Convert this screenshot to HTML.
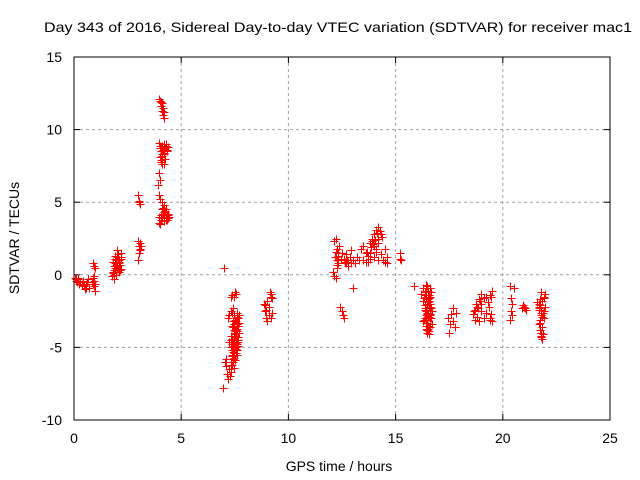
<!DOCTYPE html>
<html><head><meta charset="utf-8"><style>
body{margin:0;background:#fff}
svg{display:block;font-family:"Liberation Sans",sans-serif}
</style></head><body>
<svg id="chart" width="640" height="480" viewBox="0 0 640 480" xmlns="http://www.w3.org/2000/svg">
<rect width="640" height="480" fill="#fff"/>
<text x="44" y="32" font-size="14" textLength="588" lengthAdjust="spacingAndGlyphs">Day 343 of 2016, Sidereal Day-to-day VTEC variation (SDTVAR) for receiver mac1</text>
<g id="grid"></g>
<g id="ticks"></g>
<g id="pts"></g>
<rect x="74" y="57" width="536" height="363" fill="none" stroke="#000" stroke-width="1"/>
<text x="339" y="471" font-size="14" text-anchor="middle">GPS time / hours</text>
<text transform="translate(19,238) rotate(-90)" font-size="14" text-anchor="middle">SDTVAR / TECUs</text>
</svg>
<script>
const xTicks=[0,5,10,15,20,25];
const yTicks=[-10,-5,0,5,10,15];
const hours=[0.05,0.1,0.15,0.2,0.25,0.3,0.35,0.4,0.45,0.5,0.55,0.6,0.65,0.7,0.85,0.9,0.95,1.0,0.9,0.95,1.0,0.92,0.98,
0.08,0.18,0.28,0.38,0.48,0.58,0.88,0.93,
1.75,1.8,1.85,1.9,1.95,2.0,2.05,2.1,2.15,2.2,1.8,1.9,2.0,2.1,1.85,1.95,2.05,1.9,2.0,2.1,2.15,2.2,
1.82,1.88,1.92,1.98,2.02,2.08,2.12,2.18,1.87,1.97,2.07,2.17,
3.0,3.05,3.1,3.0,3.05,3.1,3.05,3.0,3.08,3.02,3.07,3.12,
3.95,4.0,4.05,4.1,4.15,4.2,4.05,4.1,4.15,4.2,3.95,4.0,4.05,4.1,4.2,4.3,4.35,4.4,4.2,4.25,4.05,4.1,3.95,4.0,3.9,3.95,4.0,4.1,4.2,4.3,4.4,4.45,4.15,4.25,4.35,3.95,3.95,4.0,4.05,4.1,4.2,4.3,4.4,
4.0,4.05,4.1,4.15,4.2,4.25,4.3,4.35,4.4,4.12,4.22,4.32,4.08,4.18,4.28,4.38,4.1,4.2,4.3,4.4,4.15,4.25,4.35,4.0,4.08,4.12,4.18,4.02,
6.95,7.05,7.1,7.15,7.2,7.25,7.3,7.35,7.4,7.45,7.5,7.55,7.6,7.65,7.7,7.3,7.35,7.4,7.45,7.5,7.55,7.6,7.65,7.35,7.4,7.45,7.5,7.55,7.6,7.35,7.4,7.45,7.5,7.3,7.35,7.3,7.25,7.2,7.1,7.0,7.6,7.55,7.5,7.45,7.4,7.35,7.3,7.25,7.3,
7.35,7.4,7.45,7.5,7.55,7.6,7.65,7.7,7.38,7.43,7.48,7.53,7.58,7.63,7.68,7.36,7.41,7.46,7.51,7.56,7.61,7.66,7.4,7.45,7.5,7.55,7.6,7.65,7.42,7.47,7.52,7.57,7.62,7.44,7.49,7.54,7.59,7.32,7.28,7.33,
8.85,8.9,8.95,9.0,9.1,9.2,9.15,9.2,9.25,8.9,9.0,9.1,9.18,9.22,8.95,
12.1,12.15,12.2,12.25,12.3,12.35,12.15,12.2,12.25,12.3,12.2,12.25,12.4,12.5,12.55,12.6,12.5,12.6,12.7,12.8,12.6,12.7,12.8,12.9,13.0,12.9,13.0,13.1,
12.18,12.22,12.28,12.33,12.45,12.65,12.75,12.85,
13.4,13.5,13.6,13.7,13.8,13.9,13.5,13.6,13.7,13.8,13.9,14.0,14.1,14.2,14.3,14.0,14.1,14.2,14.3,14.4,13.8,14.0,14.2,14.5,14.6,14.5,14.6,13.3,13.2,13.1,
13.95,14.05,14.15,14.25,14.35,14.1,14.2,13.85,13.65,
15.2,15.25,15.2,15.85,
16.2,16.3,16.35,16.4,16.45,16.5,16.55,16.6,16.65,16.7,16.3,16.35,16.4,16.45,16.5,16.55,16.6,16.35,16.4,16.45,16.5,16.55,16.6,16.4,16.5,16.6,16.3,16.4,16.5,16.6,16.45,16.5,16.55,16.45,
16.32,16.38,16.42,16.48,16.52,16.58,16.62,16.68,16.34,16.44,16.54,16.64,16.36,16.46,16.56,16.66,16.4,16.5,16.6,16.42,16.52,16.62,16.38,16.48,16.58,
17.45,17.5,17.55,17.6,17.7,17.75,17.8,17.7,
18.6,18.7,18.8,18.9,19.0,19.1,19.2,18.7,18.8,18.9,19.0,19.1,19.3,19.4,19.5,19.4,19.5,19.45,18.75,18.85,19.0,19.2,
19.35,19.45,19.42,18.65,18.95,
20.35,20.4,20.45,20.4,20.35,20.5,20.45,20.9,21.0,21.1,20.95,21.05,
21.6,21.7,21.8,21.9,21.95,21.7,21.75,21.8,21.85,21.9,21.95,21.7,21.8,21.9,21.75,21.85,21.8,21.75,21.7,21.8,
21.72,21.78,21.82,21.88,21.92,21.74,21.84,21.68,21.76,21.86];
const values=[-0.2,-0.4,-0.5,-0.3,-0.6,-0.5,-0.7,-0.4,-0.8,-1.0,-0.6,-0.5,-0.3,-0.9,-0.5,-0.2,-0.8,-1.1,0.8,0.6,0.5,-0.4,-0.6,
-0.3,-0.2,-0.5,-0.6,-0.7,-0.9,-0.6,-0.1,
-0.1,0.1,0.3,0.5,0.9,1.2,1.4,1.0,0.7,1.5,0.9,1.1,0.6,0.2,-0.3,0.0,0.4,1.3,1.7,0.8,0.3,1.1,
0.2,0.6,0.8,1.0,0.5,0.3,0.9,1.2,0.0,0.7,1.1,0.4,
5.5,5.0,4.9,2.3,2.0,1.8,1.5,1.0,2.2,5.1,1.7,2.0,
12.1,12.0,11.9,11.8,11.5,11.2,11.6,11.3,11.0,10.8,9.1,8.9,8.7,8.5,8.8,9.0,8.6,8.8,8.3,8.0,7.9,7.6,7.0,6.5,6.2,5.5,5.2,5.0,4.8,4.5,4.2,4.0,4.6,4.3,3.8,4.0,3.6,3.5,3.8,3.9,3.7,3.9,4.1,
8.7,8.5,8.9,8.6,9.0,8.7,8.9,8.6,8.8,8.3,8.4,8.5,4.1,4.3,3.9,4.0,4.5,4.0,3.8,3.9,4.2,4.4,4.1,8.1,7.8,8.2,7.6,8.9,
-7.8,-6.0,-6.3,-6.8,-7.2,-6.5,-6.0,-5.5,-5.0,-4.6,-4.2,-3.8,-3.4,-3.0,-2.8,-4.5,-4.8,-5.2,-5.4,-4.9,-4.3,-3.9,-4.5,-3.5,-3.2,-3.8,-4.0,-5.0,-5.5,-2.6,-2.3,-2.8,-3.1,-1.5,-1.4,-2.5,-2.8,-3.0,-5.8,0.5,-2.6,-1.3,-1.2,-1.5,-5.8,-6.2,-5.0,-4.6,-4.2,
-4.4,-4.6,-4.8,-5.0,-4.7,-4.5,-4.3,-4.0,-5.2,-4.9,-4.4,-4.1,-3.7,-3.5,-3.3,-5.6,-5.3,-4.2,-3.9,-5.1,-4.8,-4.6,-3.6,-3.4,-3.1,-5.4,-5.2,-4.9,-6.0,-5.7,-4.3,-4.0,-3.7,-6.4,-5.9,-3.2,-2.9,-6.7,-7.0,-6.2,
-2.0,-2.5,-3.0,-3.2,-2.8,-1.5,-1.2,-3.0,-2.6,-2.1,-1.8,-2.2,-1.3,-1.6,-2.4,
0.2,-0.1,-0.2,1.0,1.5,2.0,2.3,2.5,1.8,0.8,1.2,0.5,-2.2,-2.5,-2.8,-3.0,1.5,1.0,0.8,0.6,1.1,1.4,0.9,0.8,-0.9,1.7,1.0,0.8,
1.2,1.6,0.7,1.3,1.1,0.9,1.0,1.2,
1.8,1.0,0.9,1.3,2.2,2.5,2.0,1.5,0.9,1.1,2.3,2.8,3.1,3.3,2.8,2.0,1.8,2.5,1.4,1.0,1.5,1.2,1.0,1.8,1.2,0.9,0.8,1.0,1.2,0.8,
2.1,2.4,2.9,3.0,2.6,1.6,2.2,1.9,1.6,
1.5,1.0,1.1,-0.8,
-1.3,-1.8,-2.3,-2.8,-3.3,-3.7,-4.1,-3.6,-3.0,-2.5,-0.9,-1.2,-1.5,-2.0,-2.6,-1.8,-0.9,-3.0,-3.5,-4.0,-1.1,-2.2,-1.5,-0.7,-1.7,-2.2,-3.2,-2.5,-1.4,-2.8,-3.8,-2.9,-3.9,-0.8,
-1.6,-2.1,-2.4,-2.7,-1.9,-1.4,-2.0,-3.4,-3.1,-3.3,-3.6,-1.2,-2.4,-2.6,-1.6,-2.3,-1.1,-1.9,-3.0,-3.7,-3.5,-2.7,-1.4,-2.0,-2.9,
-3.0,-4.0,-3.4,-2.7,-3.2,-3.6,-2.6,-2.3,
-2.7,-2.4,-2.2,-3.2,-2.0,-1.6,-2.6,-3.1,-2.9,-1.7,-2.5,-3.0,-1.9,-1.4,-1.1,-3.0,-3.2,-2.7,-2.0,-2.3,-1.3,-1.5,
-2.2,-1.5,-3.1,-2.5,-1.8,
-0.8,-1.6,-2.0,-2.5,-3.1,-0.9,-2.8,-2.3,-2.2,-2.4,-2.1,-2.3,
-1.9,-2.3,-2.6,-3.0,-2.2,-3.4,-3.8,-4.2,-4.4,-1.5,-1.3,-2.0,-2.8,-2.5,-3.1,-3.6,-4.0,-1.7,-2.4,-1.2,
-2.1,-2.4,-1.8,-2.6,-1.6,-3.3,-2.9,-2.2,-4.3,-4.1];
const X0=74,X1=610,Y0=420,Y1=57;
const xs=v=>X0+(v-0)/(25-0)*(X1-X0);
const ys=v=>Y0-(v-(-10))/(15-(-10))*(Y0-Y1);
const NS="http://www.w3.org/2000/svg";
const grid=document.getElementById('grid'),ticks=document.getElementById('ticks'),pts=document.getElementById('pts');
function mk(t,a,p){const e=document.createElementNS(NS,t);for(const k in a)e.setAttribute(k,a[k]);p.appendChild(e);return e;}
xTicks.forEach(t=>{const x=xs(t);
 if(t>0&&t<25){const g=mk('line',{x1:x,x2:x,y1:Y1,y2:Y0,stroke:'#a0a0a0','stroke-dasharray':'3,3'},grid);
 
 }
 mk('line',{x1:x,x2:x,y1:Y0,y2:Y0-6,stroke:'#000'},ticks);mk('line',{x1:x,x2:x,y1:Y1,y2:Y1+6,stroke:'#000'},ticks);
 const l=mk('text',{x:x,y:443,'font-size':14,'text-anchor':'middle'},ticks);l.textContent=t;
 
 });
yTicks.forEach(t=>{const y=ys(t);
 if(t>-10&&t<15){const g=mk('line',{x1:X0,x2:X1,y1:y,y2:y,stroke:'#a0a0a0','stroke-dasharray':'3,3'},grid);
 
 }
 mk('line',{x1:X0,x2:X0+6,y1:y,y2:y,stroke:'#000'},ticks);mk('line',{x1:X1,x2:X1-6,y1:y,y2:y,stroke:'#000'},ticks);
 const l=mk('text',{x:62,y:y+5,'font-size':14,'text-anchor':'end'},ticks);l.textContent=t;
 
 });
hours.forEach((h,i)=>{const x=Math.round(xs(h))+0.5,y=Math.round(ys(values[i]))+0.5;
 const p=mk('path',{d:`M${x-4} ${y}H${x+4}M${x} ${y-4}V${y+4}`,stroke:'#ff0000','stroke-width':1,fill:'none'},pts);
 
 });
</script>
</body></html>
